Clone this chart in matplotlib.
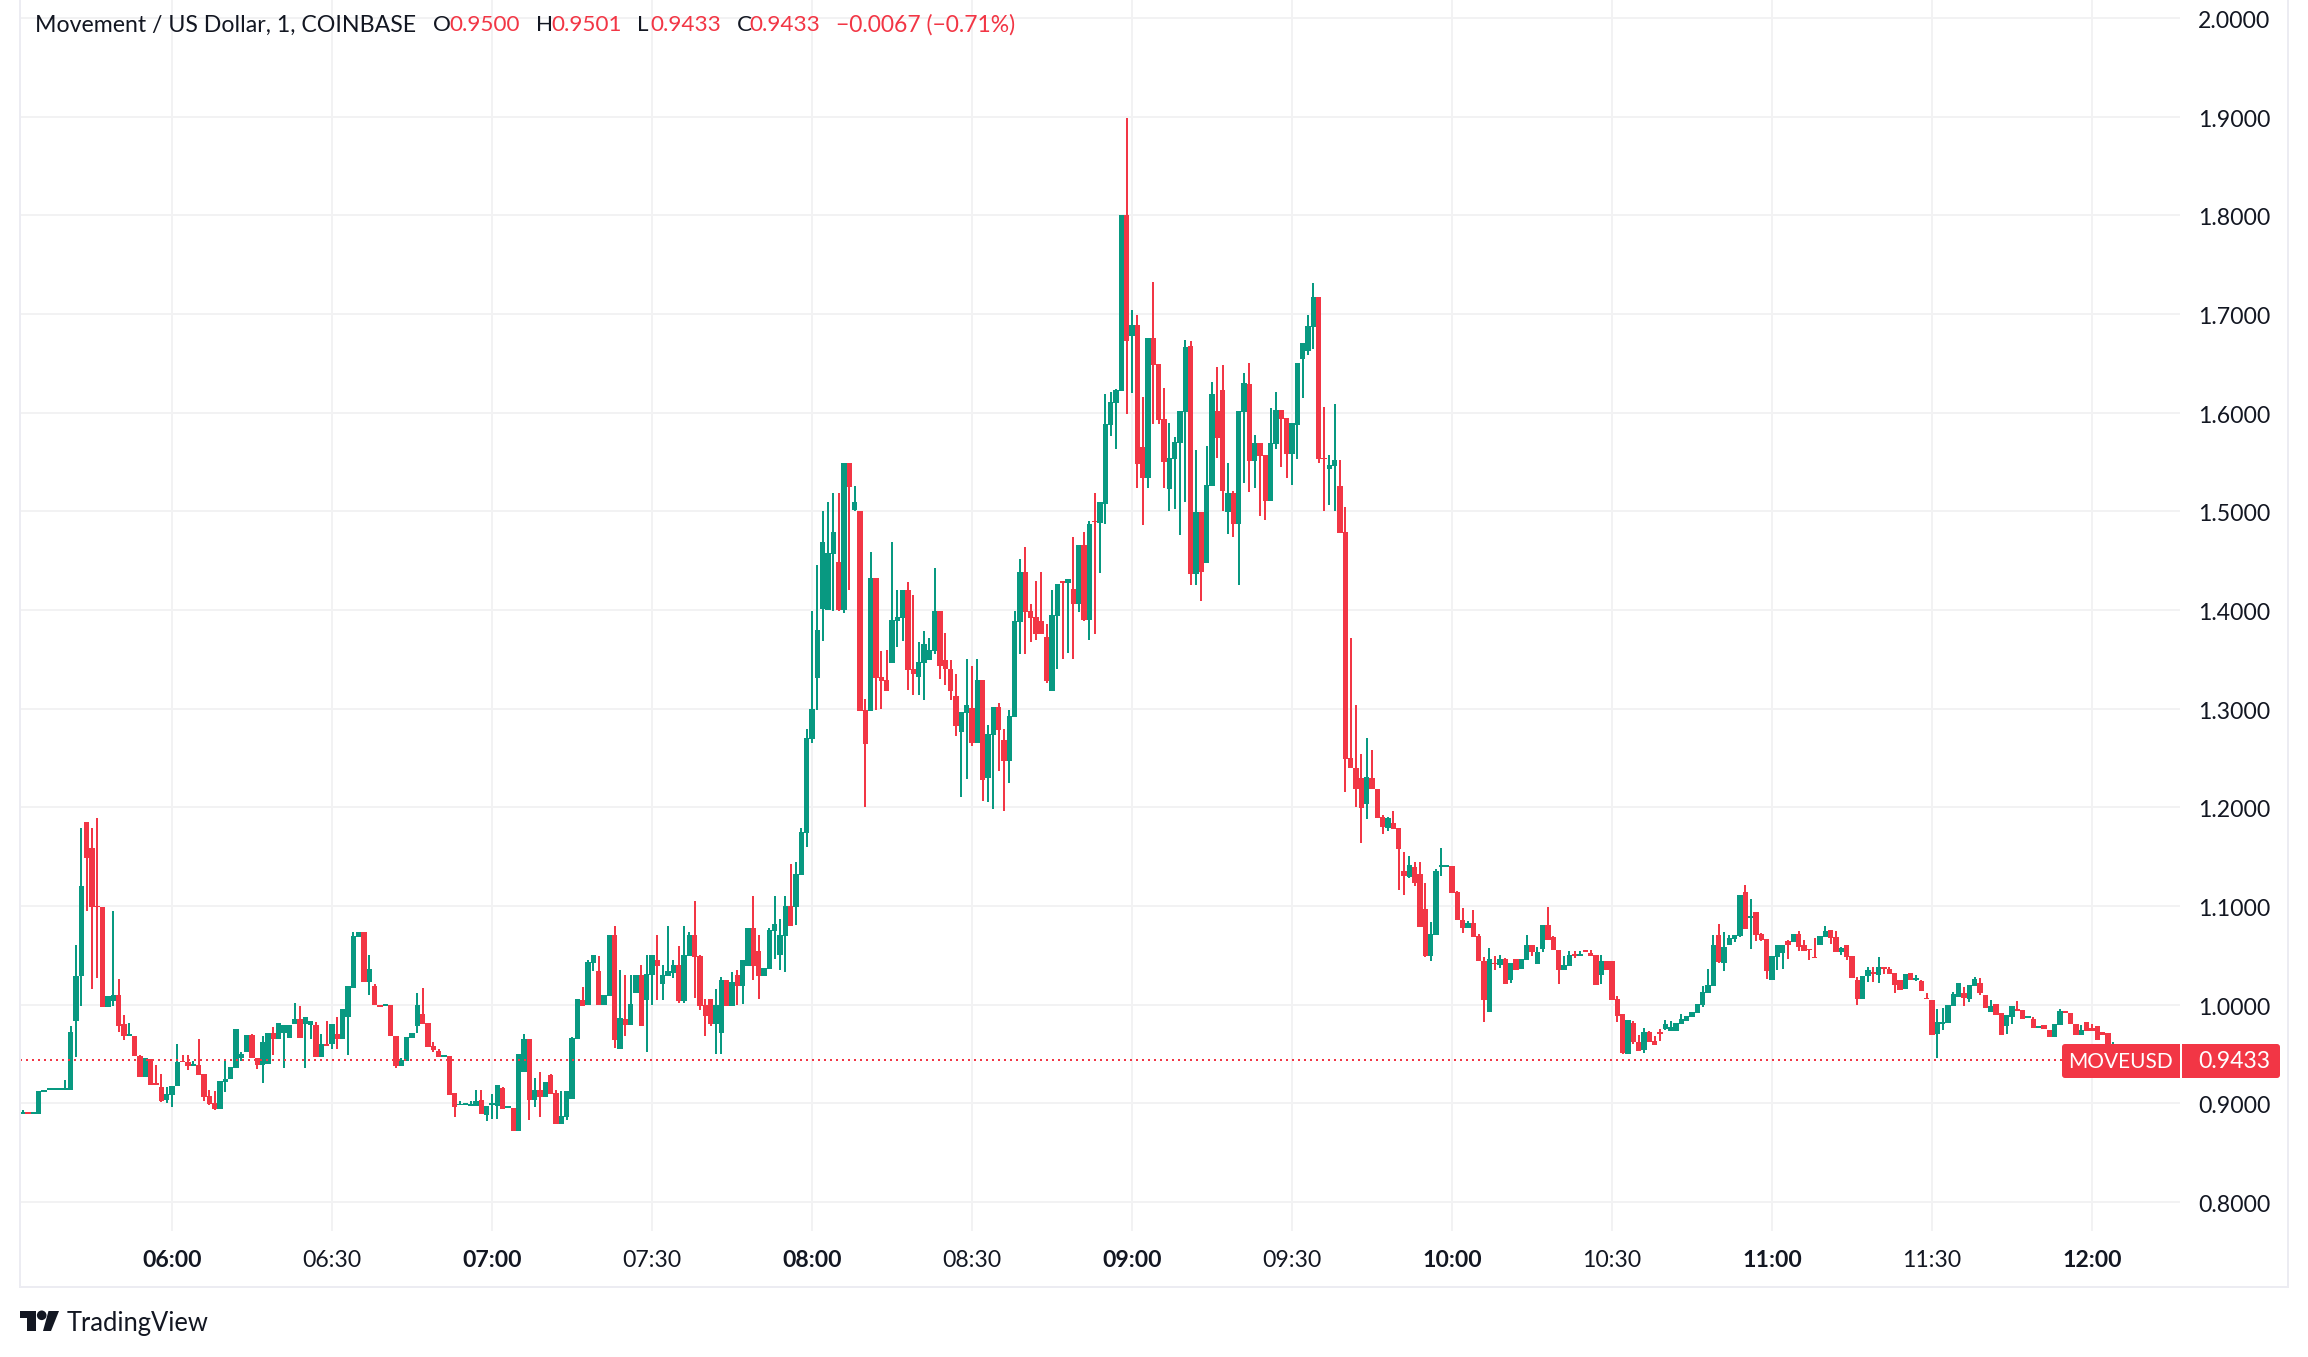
#!/usr/bin/env python3
import numpy as np
import matplotlib
matplotlib.use("Agg")
import matplotlib.pyplot as plt
from matplotlib.patches import FancyBboxPatch, Polygon, Circle, Rectangle
from matplotlib.transforms import ScaledTranslation

W, H = 2308, 1357
UP = "#089981"
DOWN = "#F23645"
INK = "#131722"
GRID = "#F2F2F3"
BORDER = "#ECECF2"

plt.rcParams["font.family"] = ["Lato", "DejaVu Sans"]

# ── 1 minute candles, one row of ten per line, first bar 05:32 ────────────────
opens = [
    .889,.891,.889,.889,.911,.913,.913,.913,.913,.913,
    .983,1.029,1.185,1.159,1.100,1.099,.998,1.004,1.010,.980,
    .968,.968,.948,.927,.945,.920,.916,.903,.908,.917,
    .943,.942,.938,.939,.930,.907,.900,.894,.921,.924,
    .936,.946,.952,.969,.946,.939,.940,.971,.965,.971,
    .966,.980,.985,.980,.979,.979,.947,.960,.960,.970,
    .965,.987,1.017,1.068,1.074,1.023,1.019,1.000,.999,1.000,
    .968,.938,.943,.966,.978,.990,.981,.958,.953,.947,
    .948,.910,.898,.898,.897,.897,.903,.888,.898,.897,
    .915,.895,.895,.872,.932,.965,.903,.913,.906,.929,
    .910,.879,.886,.904,.965,1.005,1.000,1.042,1.034,1.000,
    1.009,1.070,.955,.985,.979,1.012,1.030,1.005,1.030,1.045,
    1.021,1.029,1.032,1.040,1.004,1.049,1.070,1.049,1.000,1.006,
    .980,.971,1.025,.999,1.030,1.019,1.039,1.078,1.054,1.029,
    1.036,1.075,1.050,1.069,1.100,1.099,1.131,1.174,1.269,1.331,
    1.401,1.400,1.457,1.449,1.400,1.549,1.501,1.500,1.299,1.298,
    1.432,1.332,1.329,1.346,1.389,1.392,1.420,1.340,1.332,1.346,
    1.349,1.358,1.399,1.349,1.340,1.313,1.276,1.296,1.301,1.265,
    1.329,1.230,1.273,1.302,1.268,1.247,1.292,1.388,1.439,1.399,
    1.393,1.389,1.373,1.318,1.394,1.429,1.427,1.421,1.406,1.466,
    1.390,1.490,1.488,1.507,1.588,1.610,1.622,1.800,1.678,1.689,
    1.565,1.534,1.676,1.649,1.594,1.523,1.553,1.569,1.601,1.668,
    1.436,1.499,1.448,1.526,1.602,1.623,1.499,1.519,1.487,1.601,
    1.629,1.551,1.569,1.557,1.510,1.568,1.603,1.595,1.558,1.588,
    1.654,1.663,1.687,1.717,1.554,1.543,1.546,1.526,1.479,1.250,
    1.240,1.230,1.203,1.230,1.218,1.190,1.179,1.184,1.179,1.135,
    1.129,1.139,1.132,1.097,1.049,1.070,1.139,1.139,1.140,1.114,
    1.086,1.078,1.083,1.069,1.044,.992,1.042,1.040,1.046,1.025,
    1.046,1.036,1.045,1.060,1.041,1.056,1.081,1.068,1.055,1.035,
    1.039,1.051,1.049,1.055,1.052,1.050,1.030,1.044,1.044,1.006,
    .990,.950,.981,.962,.954,.972,.963,.972,.975,.973,
    .973,.980,.983,.987,.991,1.000,1.012,1.019,1.070,1.042,
    1.060,1.066,1.069,1.114,1.088,1.094,1.071,1.066,1.025,1.048,
    1.052,1.064,1.063,1.072,1.060,1.056,1.048,1.060,1.068,1.076,
    1.068,1.053,1.060,1.049,1.025,1.006,1.029,1.033,1.030,1.038,
    1.036,1.032,1.025,1.016,1.032,1.025,1.024,1.007,1.005,.970,
    .980,.981,.999,1.008,1.012,1.006,1.019,1.022,1.010,.992,
    1.001,.991,.978,.987,.995,.994,.986,.985,.976,.979,
    .974,.967,.979,.993,.991,.980,.969,.982,.976,.978,
    .972,.971,.954,.9500,
]
closes = [
    .891,.889,.891,.912,.913,.915,.915,.915,.915,.972,
    1.029,1.120,1.149,1.099,1.099,.998,1.009,1.010,.978,.968,
    .970,.948,.927,.946,.918,.918,.902,.909,.917,.942,
    .942,.938,.940,.929,.906,.899,.894,.922,.925,.937,
    .975,.950,.969,.946,.939,.962,.971,.965,.981,.979,
    .979,.985,.966,.987,.983,.947,.960,.958,.980,.965,
    .995,1.019,1.069,1.074,1.023,1.036,1.000,.998,1.001,.968,
    .938,.944,.967,.971,1.000,.980,.957,.954,.947,.949,
    .908,.896,.899,.900,.899,.902,.889,.897,.900,.918,
    .894,.897,.872,.950,.965,.903,.913,.906,.921,.909,
    .879,.887,.912,.966,1.006,.999,1.043,1.050,1.000,1.010,
    1.070,.964,.986,.979,1.001,1.030,.978,1.031,1.050,1.039,
    1.030,1.034,1.040,1.004,1.050,1.070,1.048,.999,.988,.980,
    1.000,1.025,.999,1.023,1.019,1.045,1.078,1.039,1.029,1.037,
    1.076,1.082,1.070,1.100,1.080,1.132,1.175,1.270,1.300,1.380,
    1.469,1.458,1.479,1.400,1.549,1.525,1.509,1.298,1.264,1.432,
    1.331,1.328,1.318,1.390,1.393,1.420,1.339,1.335,1.347,1.365,
    1.359,1.399,1.343,1.340,1.318,1.282,1.297,1.304,1.265,1.329,
    1.228,1.274,1.302,1.278,1.247,1.293,1.389,1.439,1.398,1.392,
    1.376,1.376,1.328,1.395,1.426,1.427,1.431,1.406,1.466,1.390,
    1.487,1.489,1.509,1.589,1.611,1.623,1.800,1.673,1.689,1.548,
    1.534,1.676,1.648,1.593,1.550,1.554,1.570,1.602,1.667,1.436,
    1.499,1.439,1.527,1.619,1.574,1.521,1.519,1.487,1.602,1.630,
    1.551,1.569,1.556,1.510,1.569,1.603,1.594,1.558,1.590,1.650,
    1.671,1.688,1.717,1.553,1.553,1.547,1.552,1.478,1.249,1.240,
    1.218,1.199,1.231,1.218,1.189,1.180,1.189,1.178,1.158,1.130,
    1.141,1.123,1.079,1.049,1.072,1.135,1.141,1.141,1.113,1.086,
    1.078,1.083,1.068,1.044,1.005,1.046,1.041,1.046,1.021,1.042,
    1.035,1.046,1.060,1.053,1.053,1.081,1.065,1.055,1.035,1.040,
    1.050,1.049,1.051,1.053,1.049,1.020,1.044,1.035,1.005,.988,
    .951,.984,.962,.953,.972,.962,.959,.970,.980,.977,
    .981,.985,.988,.992,1.001,1.013,1.020,1.060,1.043,1.058,
    1.067,1.070,1.111,1.077,1.090,1.070,1.065,1.034,1.049,1.060,
    1.060,1.060,1.071,1.058,1.054,1.055,1.047,1.069,1.075,1.067,
    1.053,1.057,1.048,1.027,1.006,1.029,1.035,1.031,1.038,1.036,
    1.031,1.020,1.015,1.031,1.025,1.027,1.014,1.006,.969,.982,
    .982,1.000,1.011,1.022,1.007,1.020,1.026,1.012,.996,.999,
    .989,.969,.989,.999,.993,.985,.988,.976,.978,.975,
    .967,.980,.993,.991,.980,.969,.974,.973,.973,.964,
    .969,.954,.959,.9433,
]
highs = [
    .893,.891,.891,.912,.913,.915,.915,.915,.923,.978,
    1.060,1.179,1.185,1.179,1.189,1.099,1.009,1.095,1.026,.989,
    .981,.968,.949,.946,.945,.939,.930,.916,.917,.960,
    .949,.949,.943,.965,.930,.913,.912,.922,.944,.937,
    .975,.952,.969,.970,.946,.968,.971,.977,.981,.979,
    .979,1.002,.999,.987,.983,.982,.970,.983,.980,.987,
    .995,1.019,1.074,1.074,1.074,1.050,1.021,1.000,1.001,1.000,
    .968,.946,.967,.971,1.012,1.017,.981,.962,.955,.949,
    .948,.910,.902,.900,.902,.913,.913,.897,.909,.918,
    .916,.897,.895,.950,.970,.965,.926,.932,.921,.930,
    .913,.912,.912,.967,1.006,1.018,1.045,1.050,1.049,1.010,
    1.070,1.080,1.035,1.030,1.030,1.030,1.040,1.050,1.050,1.070,
    1.040,1.080,1.045,1.059,1.080,1.074,1.105,1.050,1.006,1.006,
    1.016,1.028,1.025,1.033,1.035,1.045,1.078,1.110,1.070,1.037,
    1.078,1.110,1.087,1.110,1.142,1.145,1.179,1.279,1.399,1.446,
    1.500,1.509,1.519,1.519,1.549,1.549,1.526,1.500,1.310,1.459,
    1.432,1.358,1.359,1.469,1.420,1.420,1.428,1.415,1.368,1.379,
    1.372,1.443,1.399,1.377,1.349,1.335,1.297,1.350,1.343,1.350,
    1.329,1.283,1.302,1.306,1.279,1.299,1.399,1.452,1.464,1.406,
    1.429,1.439,1.386,1.420,1.426,1.429,1.431,1.474,1.466,1.479,
    1.490,1.519,1.509,1.619,1.621,1.624,1.800,1.899,1.704,1.699,
    1.616,1.676,1.732,1.649,1.625,1.590,1.575,1.602,1.674,1.673,
    1.562,1.499,1.566,1.631,1.646,1.648,1.549,1.521,1.602,1.640,
    1.650,1.577,1.569,1.557,1.605,1.621,1.603,1.595,1.590,1.650,
    1.671,1.699,1.731,1.717,1.606,1.557,1.609,1.552,1.504,1.372,
    1.304,1.254,1.270,1.258,1.219,1.192,1.190,1.196,1.179,1.155,
    1.151,1.144,1.144,1.123,1.084,1.137,1.159,1.141,1.140,1.115,
    1.098,1.085,1.096,1.072,1.048,1.057,1.049,1.050,1.047,1.042,
    1.046,1.046,1.070,1.060,1.058,1.081,1.099,1.069,1.055,1.049,
    1.054,1.054,1.054,1.055,1.055,1.050,1.050,1.044,1.044,1.009,
    .990,.984,.983,.969,.976,.973,.968,.975,.984,.983,
    .981,.990,.988,.992,1.001,1.019,1.036,1.070,1.082,1.074,
    1.070,1.070,1.111,1.121,1.107,1.094,1.073,1.066,1.049,1.060,
    1.060,1.065,1.072,1.075,1.065,1.056,1.067,1.069,1.080,1.076,
    1.075,1.058,1.060,1.049,1.028,1.029,1.038,1.038,1.048,1.038,
    1.038,1.032,1.025,1.031,1.032,1.030,1.025,1.012,1.005,.995,
    .996,1.000,1.013,1.022,1.018,1.020,1.028,1.027,1.010,1.005,
    1.001,.991,.989,.999,1.004,.994,.988,.987,.978,.979,
    .974,.980,.995,.993,.991,.980,.979,.982,.980,.978,
    .972,.971,.962,.9501,
]
lows = [
    .889,.889,.889,.889,.911,.913,.913,.913,.913,.913,
    .947,.999,1.095,1.016,1.027,.998,.998,.999,.972,.964,
    .968,.948,.927,.927,.918,.918,.901,.900,.896,.917,
    .942,.934,.938,.929,.902,.898,.893,.894,.911,.924,
    .936,.943,.952,.946,.935,.920,.940,.949,.965,.936,
    .966,.980,.966,.936,.965,.947,.947,.958,.955,.955,
    .965,.949,1.017,1.068,1.023,1.010,1.000,.998,.999,.968,
    .936,.938,.943,.966,.971,.980,.957,.952,.947,.947,
    .908,.886,.898,.898,.897,.897,.889,.882,.884,.884,
    .894,.895,.872,.872,.932,.883,.896,.886,.906,.909,
    .879,.879,.883,.904,.965,.999,1.000,1.034,1.000,1.000,
    1.009,.956,.955,.968,.979,1.012,.978,.952,1.000,1.005,
    1.005,1.029,1.027,1.002,1.002,1.049,1.007,.994,.968,.978,
    .950,.950,.999,.999,1.000,1.001,1.039,1.025,1.006,1.029,
    1.036,1.046,1.035,1.033,1.080,1.081,1.131,1.160,1.265,1.299,
    1.369,1.400,1.399,1.399,1.397,1.420,1.500,1.298,1.200,1.298,
    1.299,1.300,1.318,1.346,1.362,1.369,1.319,1.314,1.314,1.309,
    1.349,1.355,1.330,1.324,1.309,1.272,1.210,1.229,1.262,1.265,
    1.206,1.205,1.198,1.237,1.196,1.225,1.292,1.355,1.355,1.368,
    1.370,1.376,1.326,1.318,1.340,1.350,1.356,1.350,1.398,1.389,
    1.370,1.376,1.437,1.487,1.576,1.563,1.622,1.599,1.620,1.524,
    1.486,1.524,1.589,1.589,1.524,1.500,1.502,1.476,1.509,1.425,
    1.425,1.409,1.448,1.526,1.554,1.500,1.477,1.474,1.425,1.529,
    1.520,1.524,1.495,1.491,1.510,1.563,1.545,1.534,1.527,1.553,
    1.615,1.659,1.665,1.549,1.500,1.506,1.500,1.478,1.215,1.240,
    1.200,1.164,1.188,1.218,1.189,1.173,1.176,1.178,1.116,1.111,
    1.128,1.120,1.079,1.048,1.044,1.070,1.130,1.139,1.113,1.086,
    1.073,1.078,1.068,1.044,.982,.992,1.035,1.037,1.021,1.022,
    1.035,1.036,1.045,1.049,1.041,1.053,1.065,1.055,1.021,1.035,
    1.039,1.047,1.049,1.053,1.049,1.020,1.021,1.035,1.005,.982,
    .950,.950,.960,.953,.951,.962,.959,.963,.974,.973,
    .973,.980,.983,.987,.991,.998,1.012,1.019,1.042,1.034,
    1.060,1.063,1.068,1.077,1.056,1.064,1.064,1.026,1.025,1.035,
    1.036,1.046,1.063,1.054,1.054,1.045,1.047,1.060,1.068,1.061,
    1.053,1.050,1.045,1.027,1.000,1.006,1.023,1.023,1.022,1.031,
    1.031,1.012,1.015,1.016,1.025,1.024,1.014,1.006,.969,.946,
    .974,.981,.999,1.008,.999,1.003,1.019,1.010,.996,.992,
    .989,.969,.970,.980,.993,.985,.986,.976,.976,.975,
    .967,.967,.979,.991,.980,.969,.969,.973,.973,.964,
    .969,.954,.954,.9433,
]

price_ticks = [0.8, 0.9, 1.0, 1.1, 1.2, 1.3, 1.4, 1.5, 1.6, 1.7, 1.8, 1.9, 2.0]
time_ticks = [0, 30, 60, 90, 120, 150, 180, 210, 240, 270, 300, 330, 360]
time_labels = ["06:00", "06:30", "07:00", "07:30", "08:00", "08:30", "09:00",
               "09:30", "10:00", "10:30", "11:00", "11:30", "12:00"]
last_price = 0.9433

opens, closes = np.array(opens), np.array(closes)
highs, lows = np.array(highs), np.array(lows)
assert len(opens) == len(closes) == len(highs) == len(lows)
minutes = np.arange(len(opens)) - 28     # minutes after 06:00
colors = np.where(closes >= opens, UP, DOWN)

fig = plt.figure(figsize=(W / 100, H / 100), dpi=100, facecolor="white")

# ── price pane ────────────────────────────────────────────────────────────────
ax = fig.add_axes([20 / W, 1 - 1231 / H, 2160 / W, 1231 / H])
ax.set_xlim(-28.5, 376.5)
ax.set_ylim(0.7704, 2.0184)
ax.set_axisbelow(True)
ax.grid(True, color=GRID, lw=1.44)
for s in ax.spines.values():
    s.set_visible(False)

ax.vlines(minutes, lows, highs, colors=colors, lw=1.44, antialiased=False, zorder=3)
ax.bar(minutes, np.abs(closes - opens), bottom=np.minimum(opens, closes), width=0.95,
       color=colors, linewidth=0, antialiased=False, zorder=4)
ax.axhline(last_price, color=DOWN, lw=1.44, linestyle=(0, (1, 2)), zorder=5)

ax.yaxis.tick_right()
ax.set_yticks(price_ticks)
ax.set_yticklabels([f"{p:.4f}" for p in price_ticks])
ax.set_xticks(time_ticks)
ax.set_xticklabels(time_labels)
ax.tick_params(axis="both", length=0, labelsize=16.6, labelcolor=INK)
ax.tick_params(axis="y", pad=13)
ax.tick_params(axis="x", pad=14)
for lab, t in zip(ax.get_xticklabels(), time_ticks):
    if t % 60 == 0:
        lab.set_fontweight("bold")
down_1px = ScaledTranslation(0, -1.5 / 100, fig.dpi_scale_trans)
for lab in ax.get_yticklabels():
    lab.set_transform(lab.get_transform() + down_1px)

# ── chrome in pixel coordinates ───────────────────────────────────────────────
top = fig.add_axes([0, 0, 1, 1], zorder=10)
top.set_xlim(0, W)
top.set_ylim(H, 0)
top.axis("off")
top.patch.set_visible(False)

top.add_patch(Rectangle((19, 0), 2, 1288, color=BORDER, lw=0))
top.add_patch(Rectangle((19, 1286), 2270, 2, color=BORDER, lw=0))
top.add_patch(Rectangle((2287, 0), 2, 1288, color=BORDER, lw=0))

header = [(35, "Movement / US Dollar, 1, COINBASE", INK, 16.7), (433, "O", INK, 16.2),
          (449, "0.9500", DOWN, 16.2), (536, "H", INK, 16.2), (551, "0.9501", DOWN, 16.2),
          (637, "L", INK, 16.2), (650, "0.9433", DOWN, 16.2), (737, "C", INK, 16.2),
          (749, "0.9433", DOWN, 16.2), (836, "\u22120.0067 (\u22120.71%)", DOWN, 16.5)]
for x, s, c, size in header:
    top.text(x, 25, s, color=c, fontsize=size, ha="left", va="center")

# last price tag
top.add_patch(FancyBboxPatch((2064, 1046), 114, 30, boxstyle="round,pad=2,rounding_size=3",
                             fc=DOWN, ec="none"))
top.add_patch(FancyBboxPatch((2184, 1046), 94, 30, boxstyle="round,pad=2,rounding_size=3",
                             fc=DOWN, ec="none"))
top.add_patch(Rectangle((2172, 1044), 8, 34, color=DOWN, lw=0))
top.add_patch(Rectangle((2182, 1044), 8, 34, color=DOWN, lw=0))
top.text(2121, 1062, "MOVEUSD", color="white", fontsize=15, ha="center", va="center")
top.text(2270, 1062, "0.9433", color="white", fontsize=16.6, ha="right", va="center")

# logo
top.add_patch(Polygon([(20, 1311), (36, 1311), (36, 1331), (27, 1331), (27, 1318), (20, 1318)],
                      closed=True, fc=INK, ec="none"))
top.add_patch(Circle((41.7, 1315.3), 4.8, fc=INK, ec="none"))
top.add_patch(Polygon([(48.5, 1311), (59, 1311), (51, 1331), (43, 1331)],
                      closed=True, fc=INK, ec="none"))
top.text(67, 1323, "TradingView", color=INK, fontsize=18.4, ha="left", va="center")

fig.savefig("out.png", dpi=100)
